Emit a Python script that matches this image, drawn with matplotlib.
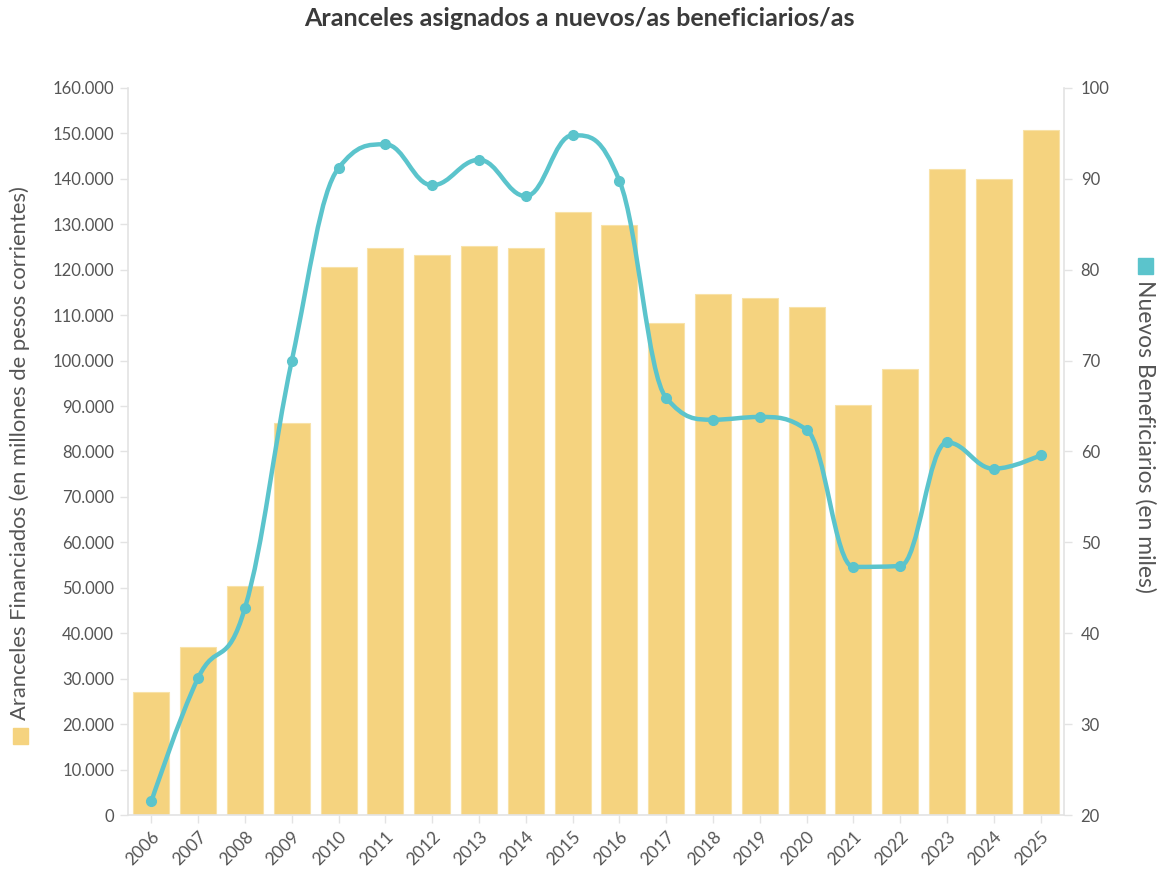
import matplotlib.pyplot as plt
from matplotlib.path import Path
from matplotlib.patches import PathPatch, Rectangle
from matplotlib.ticker import FuncFormatter

plt.rcParams['font.family'] = ['Lato', 'DejaVu Sans']

years = ['2006', '2007', '2008', '2009', '2010', '2011', '2012', '2013', '2014', '2015',
         '2016', '2017', '2018', '2019', '2020', '2021', '2022', '2023', '2024', '2025']
# Aranceles financiados (millones de pesos corrientes)
aranceles = [27000, 37000, 50500, 86300, 120600, 124800, 123200, 125200, 124800, 132700,
             129800, 108300, 114700, 113800, 111800, 90200, 98200, 142200, 140000, 150800]
# Nuevos beneficiarios (miles)
beneficiarios = [21.5, 35.1, 42.8, 70.0, 91.2, 93.8, 89.3, 92.1, 88.1, 94.8,
                 89.8, 65.9, 63.5, 63.8, 62.4, 47.3, 47.4, 61.0, 58.1, 59.6]

bar_color = '#F5D37F'
line_color = '#5BC4CC'
grey = '#555555'
axis_grey = '#E3E3E3'


def spline_path(xs, ys, smoothing=1.5):
    # highcharts-like spline: bezier control points from neighbours
    n = len(xs)
    left = [None] * n
    right = [None] * n
    for i in range(n):
        if i == 0 or i == n - 1:
            left[i] = (xs[i], ys[i])
            right[i] = (xs[i], ys[i])
            continue
        lx, ly = xs[i - 1], ys[i - 1]
        nx, ny = xs[i + 1], ys[i + 1]
        px, py = xs[i], ys[i]
        lcx = (smoothing * px + lx) / (smoothing + 1)
        lcy = (smoothing * py + ly) / (smoothing + 1)
        rcx = (smoothing * px + nx) / (smoothing + 1)
        rcy = (smoothing * py + ny) / (smoothing + 1)
        corr = ((rcy - lcy) * (rcx - px)) / (rcx - lcx) + py - rcy
        lcy += corr
        rcy += corr
        if lcy > ly and lcy > py:
            lcy = max(ly, py)
            rcy = 2 * py - lcy
        elif lcy < ly and lcy < py:
            lcy = min(ly, py)
            rcy = 2 * py - lcy
        if rcy > ny and rcy > py:
            rcy = max(ny, py)
            lcy = 2 * py - rcy
        elif rcy < ny and rcy < py:
            rcy = min(ny, py)
            lcy = 2 * py - rcy
        left[i] = (lcx, lcy)
        right[i] = (rcx, rcy)
    verts = [(xs[0], ys[0])]
    codes = [Path.MOVETO]
    for i in range(1, n):
        verts += [right[i - 1], left[i], (xs[i], ys[i])]
        codes += [Path.CURVE4] * 3
    return Path(verts, codes)


fig = plt.figure(figsize=(11.58, 8.72), dpi=100)
ax = fig.add_axes([128 / 1158, 1 - 815 / 872, (1064 - 128) / 1158, (815 - 88) / 872])
ax2 = ax.twinx()

x = list(range(len(years)))
ax.bar(x, aranceles, width=0.77, color=bar_color, edgecolor='#F8E2A8', linewidth=0.8, zorder=2)
ax.set_xlim(-0.5, len(years) - 0.5)
ax.set_ylim(0, 160000)
ax.set_yticks(range(0, 160001, 10000))
ax.yaxis.set_major_formatter(FuncFormatter(lambda v, p: f'{int(v):,}'.replace(',', '.')))
ax.set_xticks(x)
ax.set_xticklabels(years, rotation=45, ha='right', rotation_mode='anchor')

ax2.set_ylim(20, 100)
ax2.set_yticks(range(20, 101, 10))
ax2.add_patch(PathPatch(spline_path(x, beneficiarios), facecolor='none', edgecolor=line_color,
                        linewidth=3.2, capstyle='round', joinstyle='round', zorder=3))
ax2.plot(x, beneficiarios, 'o', color=line_color, markersize=7, zorder=4)

for a in (ax, ax2):
    for s in a.spines.values():
        s.set_visible(False)
    a.tick_params(colors=axis_grey, labelcolor=grey, labelsize=12, length=6, width=1)
ax.spines['left'].set_visible(True)
ax.spines['bottom'].set_visible(True)
ax2.spines['right'].set_visible(True)
for s in (ax.spines['left'], ax.spines['bottom'], ax2.spines['right']):
    s.set_color(axis_grey)
    s.set_linewidth(1.2)
ax.tick_params(axis='x', labelsize=12.5, pad=4)
ax.tick_params(axis='y', pad=4)
ax2.tick_params(axis='y', pad=6)

fig.text(0.5, 1 - 19 / 872, 'Aranceles asignados a nuevos/as beneficiarios/as',
         ha='center', va='center', fontsize=18, fontweight='bold', color='#3a3a3a')

# axis titles with legend squares
fig.text(20 / 1158, 1 - 720 / 872, 'Aranceles Financiados (en millones de pesos corrientes)',
         rotation=90, ha='center', va='bottom', fontsize=15.8, color=grey)
fig.patches.append(Rectangle((13 / 1158, 1 - 744 / 872), 15 / 1158, 16 / 872,
                             transform=fig.transFigure, color=bar_color, figure=fig))
fig.text(1145 / 1158, 1 - 280 / 872, 'Nuevos Beneficiarios (en miles)',
         rotation=-90, ha='center', va='top', fontsize=16.5, color=grey)
fig.patches.append(Rectangle((1138 / 1158, 1 - 274 / 872), 15 / 1158, 16 / 872,
                             transform=fig.transFigure, color=line_color, figure=fig))

fig.savefig('out.png', dpi=100)
